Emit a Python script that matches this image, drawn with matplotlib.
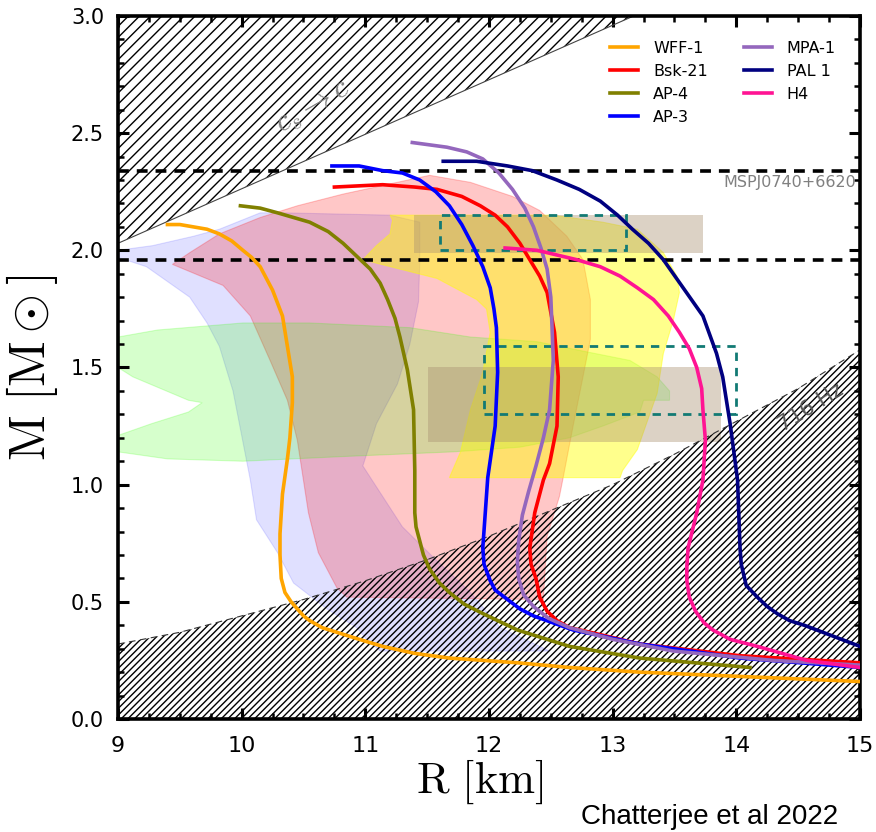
import matplotlib
matplotlib.use('Agg')
from matplotlib import pyplot as plt
from matplotlib.patches import Polygon, Rectangle
from matplotlib.ticker import MultipleLocator

plt.rcParams['mathtext.fontset'] = 'cm'
plt.rcParams['hatch.linewidth'] = 1.0

# mass-radius curves (R in km, M in solar masses)
wff1_r = [9.40, 9.50, 9.61, 9.72, 9.82, 9.92, 10.01, 10.08, 10.15, 10.20, 10.25, 10.33,
          10.37, 10.41, 10.41, 10.39, 10.37, 10.33, 10.31, 10.31, 10.32, 10.35, 10.40, 10.45,
          10.50, 10.55, 10.65, 10.77, 10.95, 11.14, 11.40, 11.68, 12.23, 12.65, 13.22, 14.11,
          15.00]
wff1_m = [2.11, 2.11, 2.10, 2.09, 2.07, 2.04, 2.00, 1.97, 1.93, 1.88, 1.83, 1.72,
          1.59, 1.46, 1.35, 1.20, 1.11, 0.96, 0.79, 0.70, 0.60, 0.54, 0.50, 0.47,
          0.44, 0.42, 0.39, 0.37, 0.34, 0.31, 0.28, 0.26, 0.24, 0.22, 0.20, 0.18,
          0.16]

bsk21_r = [10.75, 11.14, 11.40, 11.58, 11.78, 11.93, 12.05, 12.15, 12.25, 12.33, 12.41, 12.47,
           12.53, 12.56, 12.55, 12.49, 12.44, 12.37, 12.33, 12.34, 12.38, 12.41, 12.47, 12.55,
           12.65, 12.82, 13.22, 14.03, 15.00]
bsk21_m = [2.27, 2.28, 2.27, 2.26, 2.23, 2.19, 2.15, 2.10, 2.03, 1.96, 1.89, 1.82,
           1.65, 1.46, 1.25, 1.09, 1.02, 0.88, 0.73, 0.66, 0.60, 0.52, 0.46, 0.42,
           0.39, 0.37, 0.32, 0.27, 0.24]

ap4_r = [9.99, 10.15, 10.29, 10.42, 10.55, 10.70, 10.82, 10.94, 11.04, 11.12, 11.18, 11.24,
         11.28, 11.34, 11.39, 11.40, 11.40, 11.41, 11.44, 11.47, 11.52, 11.60, 11.68, 11.80,
         11.95, 12.23, 12.65, 13.22, 14.11]
ap4_m = [2.19, 2.18, 2.16, 2.14, 2.12, 2.08, 2.03, 1.97, 1.92, 1.86, 1.79, 1.71,
         1.63, 1.49, 1.32, 1.06, 0.88, 0.82, 0.76, 0.70, 0.64, 0.58, 0.54, 0.49,
         0.45, 0.38, 0.31, 0.26, 0.22]

ap3_r = [10.73, 10.95, 11.14, 11.30, 11.44, 11.57, 11.68, 11.78, 11.87, 11.95, 12.01, 12.04,
         12.06, 12.07, 12.05, 11.99, 11.95, 11.96, 12.01, 12.05, 12.15, 12.25, 12.36, 12.68,
         13.22, 14.03, 15.00]
ap3_m = [2.36, 2.36, 2.34, 2.33, 2.30, 2.25, 2.19, 2.11, 2.02, 1.93, 1.84, 1.75,
         1.67, 1.48, 1.25, 1.03, 0.73, 0.66, 0.59, 0.55, 0.51, 0.47, 0.44, 0.38,
         0.32, 0.26, 0.22]

mpa1_r = [11.38, 11.66, 11.82, 11.95, 12.08, 12.19, 12.29, 12.36, 12.42, 12.47, 12.50, 12.51,
          12.52, 12.49, 12.44, 12.38, 12.32, 12.27, 12.24, 12.23, 12.24, 12.28, 12.36, 12.48,
          12.65, 13.00, 13.49, 14.30, 15.00]
mpa1_m = [2.46, 2.44, 2.42, 2.39, 2.33, 2.26, 2.18, 2.10, 2.01, 1.92, 1.80, 1.67,
          1.53, 1.32, 1.20, 1.08, 0.97, 0.87, 0.76, 0.67, 0.60, 0.53, 0.48, 0.43,
          0.39, 0.34, 0.29, 0.25, 0.23]

pal1_r = [11.63, 11.90, 12.15, 12.35, 12.55, 12.73, 12.90, 13.04, 13.16, 13.29, 13.41, 13.57,
          13.73, 13.84, 13.89, 13.95, 14.01, 14.03, 14.04, 14.08, 14.17, 14.25, 14.33, 14.43,
          14.55, 14.70, 15.00]
pal1_m = [2.38, 2.38, 2.36, 2.34, 2.30, 2.26, 2.21, 2.15, 2.09, 2.03, 1.96, 1.84,
          1.72, 1.56, 1.46, 1.26, 1.02, 0.73, 0.66, 0.57, 0.52, 0.48, 0.45, 0.42,
          0.40, 0.37, 0.31]

h4_r = [12.13, 12.39, 12.71, 12.90, 13.06, 13.20, 13.33, 13.45, 13.54, 13.62, 13.68, 13.72,
        13.73, 13.75, 13.73, 13.68, 13.61, 13.60, 13.60, 13.62, 13.67, 13.74, 13.81, 13.95,
        14.17, 14.57, 15.00]
h4_m = [2.01, 2.00, 1.96, 1.93, 1.89, 1.84, 1.79, 1.72, 1.65, 1.58, 1.50, 1.41,
        1.32, 1.19, 1.02, 0.88, 0.73, 0.65, 0.59, 0.52, 0.46, 0.41, 0.38, 0.34,
        0.31, 0.25, 0.22]

eos_labels = ['WFF-1', 'Bsk-21', 'AP-4', 'AP-3', 'MPA-1', 'PAL 1', 'H4']
eos_colors = ['orange', 'red', 'olive', 'blue', '#9467bd', 'navy', 'deeppink']

# posterior contours
blue_reg_r = [9.00, 9.28, 9.61, 9.82, 10.15, 10.33, 11.20, 11.44, 11.44, 11.43, 11.36, 11.26,
              11.09, 10.98, 11.30, 11.55, 11.85, 12.09, 12.49, 11.12, 11.01, 10.93, 10.69, 10.42,
              10.29, 10.12, 10.07, 9.93, 9.82, 9.72, 9.58, 9.23, 9.00]
blue_reg_m = [2.00, 2.02, 2.06, 2.09, 2.16, 2.16, 2.15, 2.12, 1.95, 1.78, 1.60, 1.43,
              1.26, 1.08, 0.82, 0.69, 0.54, 0.39, 0.29, 0.29, 0.34, 0.39, 0.47, 0.58,
              0.71, 0.85, 1.02, 1.40, 1.59, 1.69, 1.80, 1.93, 1.97]

red_reg_r = [9.44, 9.58, 9.82, 10.15, 10.45, 10.82, 11.52, 11.85, 12.19, 12.41, 12.63, 12.76,
             12.82, 12.82, 12.76, 12.68, 12.60, 12.57, 12.47, 12.44, 10.85, 10.77, 10.62, 10.54,
             10.45, 10.37, 10.23, 10.07, 9.85]
red_reg_m = [1.94, 1.99, 2.07, 2.14, 2.19, 2.24, 2.32, 2.29, 2.23, 2.17, 2.06, 1.96,
             1.79, 1.62, 1.46, 1.25, 1.03, 0.95, 0.78, 0.51, 0.52, 0.56, 0.71, 0.88,
             1.19, 1.36, 1.53, 1.72, 1.85]

green_reg_r = [9.00, 9.32, 10.01, 10.55, 11.36, 11.85, 12.39, 12.76, 13.14, 13.36, 13.46, 13.46,
               13.25, 13.22, 12.92, 12.65, 12.25, 11.71, 10.82, 10.01, 9.40, 9.00, 9.00, 9.27,
               9.57, 9.68, 9.57, 9.12, 9.00]
green_reg_m = [1.63, 1.66, 1.69, 1.69, 1.67, 1.63, 1.61, 1.57, 1.53, 1.46, 1.40, 1.36,
               1.36, 1.31, 1.25, 1.20, 1.16, 1.14, 1.12, 1.10, 1.11, 1.14, 1.21, 1.26,
               1.31, 1.35, 1.36, 1.46, 1.50]

yellow_reg_r = [11.20, 12.52, 12.92, 13.20, 13.41, 13.52, 13.54, 13.49, 13.41, 13.36, 13.20, 13.08,
                13.06, 11.68, 11.77, 11.85, 11.95, 12.01, 11.98, 11.90, 11.58, 11.28, 10.98, 11.09,
                11.20, 11.22]
yellow_reg_m = [2.15, 2.15, 2.12, 2.09, 1.99, 1.89, 1.82, 1.70, 1.56, 1.39, 1.15, 1.06,
                1.03, 1.03, 1.14, 1.32, 1.48, 1.65, 1.75, 1.79, 1.88, 1.92, 1.96, 2.02,
                2.07, 2.13]

# NICER / GW boxes: (R_min, R_max, M_min, M_max)
shaded_boxes = [(11.39, 13.73, 1.99, 2.15), (11.51, 13.88, 1.18, 1.50)]
dashed_boxes = [(11.60, 13.11, 2.00, 2.15), (11.96, 14.00, 1.30, 1.59)]

# maximum-mass bounds from MSP J0740+6620
mass_bounds = [2.34, 1.96]

# causality limit and 716 Hz spin limit
causal_r = [9.00, 13.17]
causal_m = [2.03, 3.00]
spin_r = [9.0, 9.5, 10.0, 10.5, 11.0, 11.5, 12.0, 12.5, 13.0, 13.5, 14.0, 14.5, 15.0]
spin_m = [0.32, 0.37, 0.44, 0.51, 0.59, 0.68, 0.78, 0.89, 1.00, 1.13, 1.27, 1.41, 1.575]

fig = plt.figure(figsize=(8.76, 8.32), dpi=100)
ax = fig.add_axes([0.1347, 0.1358, 0.847, 0.845])

ax.add_patch(Polygon(list(zip(blue_reg_r, blue_reg_m)), closed=True, facecolor='blue',
                     alpha=0.12, edgecolor='blue', lw=0.8, zorder=1))
ax.add_patch(Polygon(list(zip(red_reg_r, red_reg_m)), closed=True, facecolor='red',
                     alpha=0.22, edgecolor='red', lw=0.8, zorder=1))
ax.add_patch(Polygon(list(zip(green_reg_r, green_reg_m)), closed=True, facecolor='#33ff00',
                     alpha=0.2, edgecolor='#33ff00', lw=0.8, zorder=1))
ax.add_patch(Polygon(list(zip(yellow_reg_r, yellow_reg_m)), closed=True, facecolor='yellow',
                     alpha=0.45, edgecolor='yellow', lw=0.8, zorder=1))

for r0, r1, m0, m1 in shaded_boxes:
    ax.add_patch(Rectangle((r0, m0), r1 - r0, m1 - m0, facecolor='#a89070', alpha=0.4,
                           edgecolor='none', zorder=1.5))
for r0, r1, m0, m1 in dashed_boxes:
    ax.add_patch(Rectangle((r0, m0), r1 - r0, m1 - m0, facecolor='none', edgecolor='#127a74',
                           lw=2, ls=(0, (3, 2.5)), zorder=2))

# excluded regions
causal_poly = list(zip(causal_r, causal_m)) + [(9.0, 3.0)]
ax.add_patch(Polygon(causal_poly, closed=True, facecolor='none', edgecolor='black',
                     hatch='///', lw=0, zorder=2))
ax.plot(causal_r, causal_m, color='#444444', lw=0.8, zorder=2)
spin_poly = list(zip(spin_r, spin_m)) + [(15.0, 0.0), (9.0, 0.0)]
ax.add_patch(Polygon(spin_poly, closed=True, facecolor='none', edgecolor='black',
                     hatch='/////', lw=0, zorder=2))
ax.plot(spin_r, spin_m, color='#333333', lw=0.8, ls=(0, (6, 4)), zorder=2)

for m in mass_bounds:
    ax.axhline(m, color='black', lw=2.6, ls=(0, (3, 2.2)), zorder=2.5)

curves = [(wff1_r, wff1_m), (bsk21_r, bsk21_m), (ap4_r, ap4_m), (ap3_r, ap3_m),
          (mpa1_r, mpa1_m), (pal1_r, pal1_m), (h4_r, h4_m)]
for (r, m), lab, col in zip(curves, eos_labels, eos_colors):
    ax.plot(r, m, color=col, lw=2.6, label=lab, zorder=3, solid_joinstyle='round')

ax.text(14.97, 2.29, 'MSPJ0740+6620', color='gray', fontsize=11.5, ha='right', va='center')
ax.text(10.58, 2.61, r'$c_s \rightarrow c$', color='gray', fontsize=22, rotation=30,
        ha='center', va='center')
ax.text(14.60, 1.33, '716 Hz', color='#555555', fontsize=15, rotation=32,
        ha='center', va='center', zorder=4)

ax.legend(loc='upper right', ncol=2, frameon=False, fontsize=11.5, handlelength=1.75,
          handletextpad=0.95, columnspacing=2.25, labelspacing=0.5,
          bbox_to_anchor=(0.987, 0.985))

ax.set_xlim(9, 15)
ax.set_ylim(0, 3)
ax.xaxis.set_major_locator(MultipleLocator(1))
ax.xaxis.set_minor_locator(MultipleLocator(0.25))
ax.yaxis.set_major_locator(MultipleLocator(0.5))
ax.yaxis.set_minor_locator(MultipleLocator(0.1))
ax.tick_params(which='both', direction='in', top=True, right=True)
ax.tick_params(which='major', length=8, width=2.2)
ax.tick_params(which='minor', length=4.5, width=1.8)
ax.tick_params(axis='x', labelsize=16, pad=12)
ax.tick_params(axis='y', labelsize=15, pad=10)
for sp in ax.spines.values():
    sp.set_linewidth(2.6)

ax.set_xlabel(r'$\mathrm{R\ [km]}$', fontsize=32)
ax.xaxis.set_label_coords(0.487, -0.055)
ax.set_ylabel(r'$\mathrm{M\ [M\odot]}$', fontsize=36, labelpad=8)

fig.text(0.957, 0.002, 'Chatterjee et al 2022', fontsize=20, ha='right', va='bottom',
         family=['Liberation Sans', 'DejaVu Sans'])

fig.savefig('out.png', dpi=100)
